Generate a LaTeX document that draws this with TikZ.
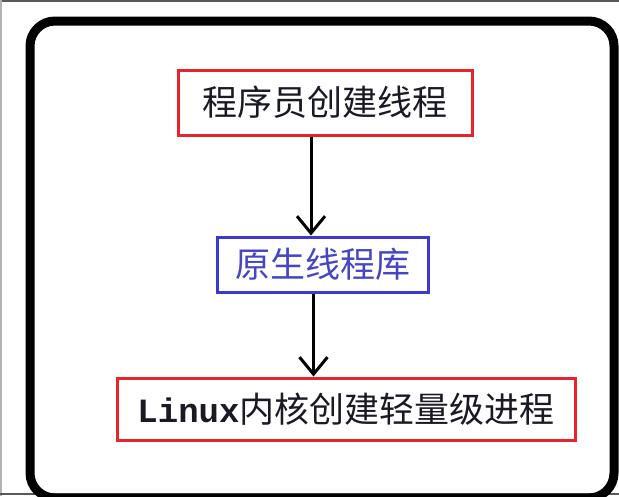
\documentclass[tikz,border=0pt]{standalone}
\usepackage{fontspec}
\usepackage{xcolor}
\usetikzlibrary{arrows.meta}
\newfontfamily\cjk{Noto Sans CJK SC}
\newfontfamily\monofnt{Liberation Mono}
\definecolor{boxred}{HTML}{E8232D}
\definecolor{boxblue}{HTML}{3A3AD2}
\definecolor{txtblue}{HTML}{4646C4}
\definecolor{txtdark}{HTML}{1A1A24}
\tikzset{
	redbox/.style={draw=boxred,line width=3pt,inner sep=0pt,text=txtdark,font=\cjk\fontsize{35}{40}\selectfont},
	bluebox/.style={draw=boxblue,line width=3pt,inner sep=0pt,text=txtblue,font=\cjk\fontsize{35}{40}\selectfont},
	flow/.style={->,line width=3pt,black}
}

\begin{document}
\begin{tikzpicture}[x=1pt,y=-1pt,>={Straight Barb[length=17pt,width=28pt]}]
		
		\useasboundingbox (0,0) rectangle (619,496);
		\fill[white] (0,0) rectangle (619,496);
		
		% Screenshot edges
		\draw[gray!70!black,line width=2.5pt] (0,1) -- (619,1);
		\draw[gray!60,line width=1.5pt] (1,0) -- (1,496);
		\draw[gray!70!black,line width=2pt] (0,493.5) -- (619,493.5);
		
		% Outer rounded frame
		\draw[line width=9pt,rounded corners=25pt] (30,21) rectangle (614,498);
		
		% Boxes
		\node[redbox,minimum width=294pt,minimum height=65pt] (prog) at (325,102.5) {程序员创建线程};
		\node[bluebox,minimum width=211pt,minimum height=55pt] (lib) at (322.5,264.5) {原生线程库};
		\node[redbox,minimum width=458pt,minimum height=62pt] (kern) at (346,409) {{\monofnt\bfseries\fontsize{34}{40}\selectfont Linux}内核创建轻量级进程};
		
		% Arrows
		\draw[flow] ([xshift=-14pt]prog.south) -- ([xshift=-14pt]prog.south |- lib.north);
		\draw[flow] ([xshift=-9pt]lib.south) -- ([xshift=-9pt]lib.south |- kern.north);
		
	\end{tikzpicture}
\end{document}
